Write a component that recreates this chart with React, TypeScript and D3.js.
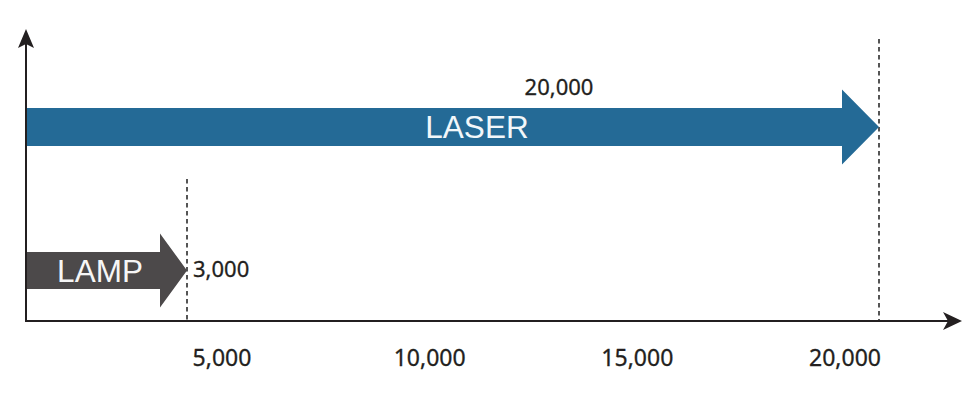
import React from "react";
import * as d3 from "d3";

// ---- data ----
const categories = ["LASER", "LAMP"];
const lifetimes = [20000, 3000];
const valueLabels = ["20,000", "3,000"];
const tickLabels = ["5,000", "10,000", "15,000", "20,000"];

const W = 979;
const H = 397;
const origin = { x: 26, y: 321 };

// non-to-scale marketing graphic: piecewise scale through the two data values
const x = d3.scaleLinear().domain([0, 3000, 20000]).range([origin.x, 187, 879]);
const xTicks = d3.scalePoint<string>().domain(tickLabels).range([222, 845]);
const y = d3.scalePoint<string>().domain(categories).range([127, 270.5]);

const styles: Record<string, any> = {
  LASER: { fill: "#246a96", body: 38, head: 75, headLen: 37, labelX: 477, valueX: 559, valueDy: -32, valueAnchor: "middle", textFill: "#f2f7fa", guideTop: 39 },
  LAMP: { fill: "#4c494a", body: 37, head: 74, headLen: 27, labelX: 100, valueX: 193, valueDy: 6.5, valueAnchor: "start", textFill: "#f6f6f6", guideTop: 179 },
};

function arrowPath(x0: number, x1: number, cy: number, body: number, head: number, headLen: number) {
  const p = d3.path();
  const b = body / 2;
  const h = head / 2;
  p.moveTo(x0, cy - b);
  p.lineTo(x1 - headLen, cy - b);
  p.lineTo(x1 - headLen, cy - h);
  p.lineTo(x1, cy);
  p.lineTo(x1 - headLen, cy + h);
  p.lineTo(x1 - headLen, cy + b);
  p.lineTo(x0, cy + b);
  p.closePath();
  return p.toString();
}

export default function App() {
  const axisColor = "#231f20";
  const numFont = "'Noto Sans', 'Open Sans', sans-serif";
  return (
    <svg width={W} height={H} style={{ position: "absolute", left: 0, top: 0, background: "#fff" }}>
      {/* dashed guides */}
      {categories.map((c, i) => (
        <line
          key={"g" + c}
          x1={x(lifetimes[i])}
          x2={x(lifetimes[i])}
          y1={styles[c].guideTop}
          y2={origin.y}
          stroke="#555"
          strokeWidth={2}
          strokeDasharray="4.5,3.5"
        />
      ))}
      {/* arrows */}
      {categories.map((c, i) => {
        const s = styles[c];
        const cy = y(c)!;
        return (
          <g key={c}>
            <path d={arrowPath(origin.x, x(lifetimes[i]), cy, s.body, s.head, s.headLen)} fill={s.fill} />
            <text
              x={s.labelX}
              y={cy + 11}
              textAnchor="middle"
              fontFamily="'Liberation Sans', Arial, sans-serif"
              fontSize={31.5}
              fill={s.textFill}
            >
              {c}
            </text>
            <text
              x={s.valueX}
              y={cy + s.valueDy}
              textAnchor={s.valueAnchor}
              fontFamily={numFont}
              fontSize={22}
              fill={axisColor}
              stroke={axisColor}
              strokeWidth={0.3}
            >
              {valueLabels[i]}
            </text>
          </g>
        );
      })}
      {/* axes */}
      <line x1={origin.x} x2={origin.x} y1={origin.y + 1} y2={44} stroke={axisColor} strokeWidth={2} />
      <path d={`M${origin.x},29 L${origin.x + 8},48 L${origin.x},44 L${origin.x - 8},48 Z`} fill={axisColor} />
      <line x1={origin.x - 1} x2={948} y1={origin.y} y2={origin.y} stroke={axisColor} strokeWidth={2} />
      <path d={`M962,${origin.y} L943,${origin.y - 9} L948,${origin.y} L943,${origin.y + 9} Z`} fill={axisColor} />
      {/* tick labels */}
      {tickLabels.map((t) => (
        <text
          key={t}
          x={xTicks(t)}
          y={366}
          textAnchor="middle"
          fontFamily={numFont}
          fontSize={23}
          fill={axisColor}
          stroke={axisColor}
          strokeWidth={0.3}
        >
          {t}
        </text>
      ))}
    </svg>
  );
}
